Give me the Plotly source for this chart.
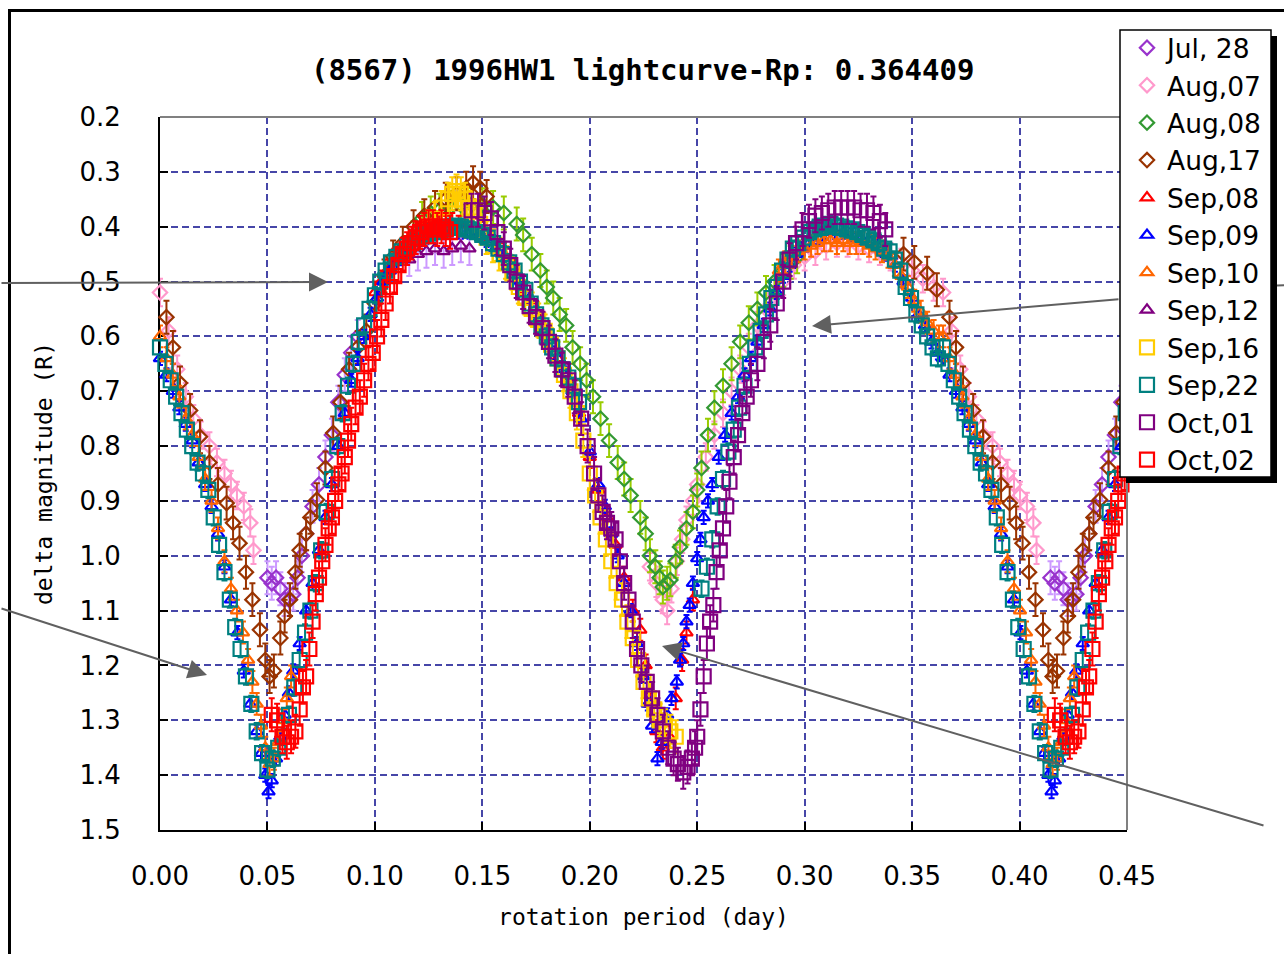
import plotly.graph_objects as go

# Rotation period used to fold the photometry (days)
PERIOD = 0.364409
X_MAX = 0.45

X_TICKS = [0.00, 0.05, 0.10, 0.15, 0.20, 0.25, 0.30, 0.35, 0.40, 0.45]
X_TICK_LABELS = ["0.00", "0.05", "0.10", "0.15", "0.20", "0.25", "0.30", "0.35", "0.40", "0.45"]
Y_TICKS = [0.2, 0.3, 0.4, 0.5, 0.6, 0.7, 0.8, 0.9, 1.0, 1.1, 1.2, 1.3, 1.4, 1.5]
Y_TICK_LABELS = ["0.2", "0.3", "0.4", "0.5", "0.6", "0.7", "0.8", "0.9", "1.0", "1.1", "1.2", "1.3", "1.4", "1.5"]

NIGHTS = ["Jul, 28", "Aug,07", "Aug,08", "Aug,17", "Sep,08", "Sep,09",
          "Sep,10", "Sep,12", "Sep,16", "Sep,22", "Oct,01", "Oct,02"]

# Phase (day) and delta magnitude (R) for each night
jul28_phase = [0.050, 0.052, 0.054, 0.056, 0.058, 0.060, 0.062, 0.064, 0.066, 0.068,
               0.071, 0.074, 0.077, 0.080, 0.083, 0.086, 0.089, 0.092]
jul28_mag = [1.04, 1.05, 1.04, 1.06, 1.08, 1.08, 1.07, 1.04, 1.00, 0.96,
             0.91, 0.87, 0.82, 0.78, 0.72, 0.67, 0.63, 0.60]

aug07_phase = [0.000, 0.004, 0.008, 0.012, 0.0155, 0.019, 0.023, 0.0265, 0.030, 0.033,
               0.0358, 0.039, 0.042, 0.0435,
               0.228, 0.231, 0.234, 0.236, 0.238, 0.2405, 0.243, 0.245, 0.248, 0.250,
               0.254, 0.258, 0.262, 0.266, 0.270, 0.274, 0.278, 0.282, 0.286, 0.290,
               0.295, 0.300, 0.305, 0.310, 0.315, 0.320, 0.325, 0.330, 0.335, 0.340,
               0.345, 0.350, 0.355, 0.360]
aug07_mag = [0.52, 0.59, 0.66, 0.71, 0.75, 0.78, 0.80, 0.83, 0.85, 0.87,
             0.89, 0.91, 0.94, 0.99,
             1.02, 1.05, 1.08, 1.10, 1.06, 1.01, 0.97, 0.935, 0.90, 0.87,
             0.82, 0.78, 0.74, 0.70, 0.66, 0.62, 0.58, 0.55, 0.52, 0.50,
             0.47, 0.455, 0.445, 0.435, 0.43, 0.43, 0.435, 0.44, 0.445, 0.455,
             0.465, 0.48, 0.495, 0.51]

aug08_phase = [0.118, 0.122, 0.126, 0.130, 0.135, 0.140, 0.145, 0.150, 0.155, 0.160,
               0.166, 0.169, 0.173, 0.177, 0.180, 0.183, 0.186, 0.189, 0.192, 0.1955,
               0.1985, 0.2015, 0.205, 0.209, 0.213, 0.216, 0.219, 0.2235, 0.226, 0.228,
               0.2305, 0.2325, 0.234, 0.236, 0.2375, 0.240, 0.242, 0.245, 0.248, 0.250,
               0.252, 0.255, 0.258, 0.262, 0.266, 0.270, 0.274, 0.278, 0.282, 0.286,
               0.290, 0.2935, 0.2965]
aug08_mag = [0.42, 0.385, 0.375, 0.37, 0.365, 0.36, 0.36, 0.36, 0.365, 0.375,
             0.395, 0.415, 0.45, 0.48, 0.51, 0.53, 0.56, 0.58, 0.62, 0.65,
             0.68, 0.71, 0.75, 0.79, 0.83, 0.86, 0.89, 0.93, 0.96, 1.00,
             1.02, 1.04, 1.057, 1.05, 1.044, 1.01, 0.984, 0.95, 0.92, 0.88,
             0.84, 0.78, 0.73, 0.69, 0.65, 0.61, 0.575, 0.55, 0.52, 0.50,
             0.48, 0.465, 0.455]

aug17_phase = [0.346, 0.351, 0.357, 0.3615,
               0.003, 0.006, 0.0093, 0.014, 0.0186, 0.023, 0.027, 0.031, 0.034, 0.037,
               0.040, 0.043, 0.0465, 0.049, 0.051, 0.053, 0.056, 0.058, 0.0605, 0.063,
               0.065, 0.068, 0.070, 0.073, 0.077, 0.0806, 0.084, 0.088, 0.092, 0.096,
               0.100, 0.1045, 0.1085, 0.113, 0.118, 0.123, 0.128, 0.133, 0.138, 0.1425,
               0.1457, 0.149, 0.152]
aug17_mag = [0.45, 0.465, 0.485, 0.515,
             0.565, 0.62, 0.685, 0.735, 0.783, 0.83, 0.87, 0.904, 0.94, 0.977,
             1.03, 1.08, 1.135, 1.19, 1.22, 1.21, 1.15, 1.11, 1.08, 1.03,
             0.99, 0.96, 0.93, 0.898, 0.84, 0.776, 0.72, 0.66, 0.62, 0.59,
             0.54, 0.49, 0.455, 0.43, 0.40, 0.38, 0.365, 0.35, 0.34, 0.33,
             0.32, 0.33, 0.345]

sep08_phase = [0.100, 0.103, 0.106, 0.109, 0.112, 0.115, 0.118, 0.121, 0.124, 0.127,
               0.130, 0.133, 0.136, 0.139, 0.142, 0.145, 0.148, 0.151, 0.155, 0.160,
               0.165, 0.170, 0.175, 0.180, 0.185, 0.190, 0.195, 0.200, 0.204, 0.208,
               0.212, 0.216, 0.220, 0.2235, 0.226, 0.228, 0.231, 0.234, 0.237, 0.240,
               0.243, 0.245, 0.248]
sep08_mag = [0.52, 0.50, 0.48, 0.46, 0.45, 0.44, 0.43, 0.42, 0.41, 0.405,
             0.40, 0.40, 0.395, 0.40, 0.40, 0.40, 0.405, 0.41, 0.425, 0.45,
             0.48, 0.52, 0.56, 0.60, 0.64, 0.68, 0.74, 0.82, 0.88, 0.93,
             0.98, 1.04, 1.10, 1.135, 1.20, 1.27, 1.32, 1.35, 1.33, 1.26,
             1.19, 1.14, 1.08]

sep09_phase = [0.000, 0.003, 0.006, 0.009, 0.012, 0.015, 0.018, 0.021, 0.024, 0.027,
               0.030, 0.033, 0.036, 0.039, 0.042, 0.045, 0.047, 0.049, 0.0505, 0.052,
               0.054, 0.056, 0.058, 0.060, 0.062, 0.065, 0.068, 0.071, 0.074, 0.077,
               0.080, 0.083, 0.086, 0.089, 0.092, 0.095, 0.098, 0.101, 0.104, 0.107,
               0.110, 0.113, 0.116, 0.120, 0.124, 0.128, 0.132, 0.136, 0.140, 0.144,
               0.148, 0.152, 0.156, 0.160, 0.164, 0.168, 0.172, 0.176, 0.180, 0.184,
               0.188, 0.192, 0.196, 0.200, 0.204, 0.207, 0.210, 0.213, 0.216, 0.219,
               0.222, 0.225, 0.227, 0.229, 0.2315, 0.2335, 0.236, 0.238, 0.2405, 0.242,
               0.2435, 0.245, 0.2465, 0.248, 0.250, 0.2515, 0.253, 0.255, 0.257, 0.260,
               0.263, 0.266, 0.269, 0.272, 0.275, 0.278, 0.281, 0.284, 0.287, 0.290,
               0.293, 0.296, 0.299, 0.302, 0.306, 0.310, 0.314, 0.318, 0.322, 0.326,
               0.330, 0.334, 0.338, 0.342, 0.346, 0.350, 0.353, 0.356, 0.359, 0.362]
sep09_mag = [0.64, 0.67, 0.70, 0.73, 0.76, 0.79, 0.83, 0.87, 0.91, 0.96,
             1.02, 1.08, 1.14, 1.21, 1.27, 1.32, 1.36, 1.40, 1.43, 1.41,
             1.37, 1.33, 1.29, 1.25, 1.21, 1.16, 1.10, 1.05, 0.99, 0.93,
             0.87, 0.80, 0.74, 0.68, 0.64, 0.60, 0.56, 0.53, 0.50, 0.48,
             0.465, 0.45, 0.44, 0.43, 0.42, 0.415, 0.41, 0.41, 0.41, 0.41,
             0.415, 0.425, 0.44, 0.455, 0.48, 0.50, 0.53, 0.57, 0.60, 0.63,
             0.66, 0.70, 0.75, 0.81, 0.87, 0.91, 0.96, 1.00, 1.05, 1.10,
             1.16, 1.22, 1.27, 1.31, 1.37, 1.34, 1.29, 1.26, 1.23, 1.19,
             1.16, 1.12, 1.09, 1.05, 1.005, 0.97, 0.93, 0.90, 0.87, 0.82,
             0.78, 0.74, 0.71, 0.67, 0.64, 0.61, 0.58, 0.55, 0.52, 0.49,
             0.47, 0.45, 0.44, 0.43, 0.42, 0.41, 0.41, 0.41, 0.415, 0.42,
             0.425, 0.435, 0.45, 0.47, 0.50, 0.53, 0.56, 0.58, 0.61, 0.63]

sep10_phase = [0.288, 0.291, 0.294, 0.297, 0.300, 0.303, 0.306, 0.309, 0.312, 0.315,
               0.318, 0.321, 0.324, 0.327, 0.330, 0.333, 0.336, 0.339, 0.342, 0.345,
               0.348, 0.351, 0.354, 0.357, 0.360, 0.3625,
               0.000, 0.003, 0.006, 0.009, 0.012, 0.015, 0.018, 0.021, 0.024, 0.027,
               0.030, 0.033, 0.0358, 0.0386, 0.041, 0.043, 0.045, 0.047, 0.049, 0.051,
               0.053, 0.055, 0.057, 0.059, 0.061]
sep10_mag = [0.48, 0.465, 0.455, 0.445, 0.44, 0.435, 0.43, 0.425, 0.425, 0.43,
             0.425, 0.43, 0.43, 0.43, 0.435, 0.44, 0.445, 0.455, 0.47, 0.49,
             0.51, 0.535, 0.555, 0.575, 0.59, 0.60,
             0.60, 0.64, 0.67, 0.71, 0.75, 0.78, 0.82, 0.86, 0.90, 0.95,
             1.01, 1.06, 1.10, 1.14, 1.19, 1.23, 1.27, 1.31, 1.35, 1.38,
             1.37, 1.34, 1.30, 1.26, 1.22]

sep12_phase = [0.116, 0.120, 0.124, 0.128, 0.132, 0.136, 0.140, 0.144]
sep12_mag = [0.46, 0.45, 0.445, 0.44, 0.445, 0.44, 0.435, 0.44]

sep16_phase = [0.125, 0.128, 0.131, 0.134, 0.136, 0.138, 0.140, 0.142, 0.144, 0.146,
               0.149, 0.152, 0.155, 0.158, 0.161, 0.164, 0.167, 0.170, 0.173, 0.176,
               0.179, 0.182, 0.185, 0.188, 0.191, 0.194, 0.197, 0.200, 0.2025, 0.205,
               0.2075, 0.210, 0.2125, 0.215, 0.2175, 0.220, 0.2225, 0.225, 0.2275, 0.230,
               0.2325, 0.235, 0.2375, 0.240]
sep16_mag = [0.40, 0.385, 0.365, 0.35, 0.34, 0.335, 0.34, 0.35, 0.365, 0.38,
             0.395, 0.42, 0.435, 0.45, 0.465, 0.485, 0.51, 0.53, 0.55, 0.57,
             0.59, 0.615, 0.64, 0.67, 0.70, 0.74, 0.79, 0.85, 0.89, 0.93,
             0.97, 1.01, 1.05, 1.08, 1.12, 1.15, 1.19, 1.23, 1.26, 1.28,
             1.30, 1.31, 1.32, 1.33]

sep22_phase = [0.252, 0.2545, 0.257, 0.2595, 0.262, 0.2645, 0.267, 0.2695, 0.272, 0.2745,
               0.277, 0.2795, 0.282, 0.2845, 0.287, 0.2895, 0.292, 0.2945, 0.297, 0.2995,
               0.302, 0.3045, 0.307, 0.3095, 0.312, 0.3145, 0.317, 0.3195, 0.322, 0.3245,
               0.327, 0.3295, 0.332, 0.3345, 0.337, 0.3395, 0.342, 0.3445, 0.347, 0.3495,
               0.352, 0.3545, 0.357, 0.3595, 0.362,
               0.000, 0.0025, 0.005, 0.0075, 0.010, 0.0125, 0.015, 0.0175, 0.020, 0.0225,
               0.025, 0.0275, 0.030, 0.0325, 0.035, 0.0375, 0.040, 0.0425, 0.045, 0.0475,
               0.050, 0.0525, 0.055, 0.0575, 0.060, 0.0625, 0.065, 0.0675, 0.070, 0.0725,
               0.075, 0.0775, 0.080, 0.0825, 0.085, 0.0875, 0.090, 0.0925, 0.095, 0.0975,
               0.100, 0.1025, 0.105, 0.1075, 0.110, 0.1125, 0.115, 0.1175, 0.120, 0.1225,
               0.125, 0.1275, 0.130, 0.1325, 0.135, 0.1375, 0.140, 0.1425, 0.145, 0.1475,
               0.150, 0.1525, 0.155, 0.1575, 0.160, 0.1625, 0.165, 0.1675, 0.170, 0.1725,
               0.175, 0.1775, 0.180, 0.1825, 0.185, 0.1875, 0.190, 0.1925, 0.195]
sep22_mag = [1.06, 1.02, 0.97, 0.91, 0.86, 0.81, 0.77, 0.73, 0.69, 0.65,
             0.62, 0.59, 0.56, 0.53, 0.51, 0.48, 0.46, 0.44, 0.43, 0.42,
             0.41, 0.405, 0.40, 0.40, 0.395, 0.40, 0.40, 0.405, 0.405, 0.41,
             0.415, 0.42, 0.425, 0.43, 0.44, 0.445, 0.46, 0.48, 0.51, 0.53,
             0.56, 0.58, 0.60, 0.62, 0.64,
             0.62, 0.65, 0.68, 0.71, 0.74, 0.77, 0.80, 0.83, 0.85, 0.88,
             0.93, 0.98, 1.03, 1.08, 1.13, 1.17, 1.22, 1.27, 1.32, 1.36,
             1.39, 1.37, 1.35, 1.33, 1.29, 1.24, 1.19, 1.14, 1.10, 1.05,
             0.99, 0.92, 0.86, 0.80, 0.74, 0.69, 0.65, 0.61, 0.58, 0.55,
             0.525, 0.50, 0.48, 0.465, 0.455, 0.445, 0.435, 0.43, 0.42, 0.415,
             0.41, 0.41, 0.405, 0.405, 0.40, 0.40, 0.40, 0.405, 0.405, 0.41,
             0.415, 0.42, 0.43, 0.44, 0.45, 0.465, 0.48, 0.50, 0.515, 0.54,
             0.56, 0.58, 0.60, 0.62, 0.64, 0.66, 0.675, 0.69, 0.72]

oct01_phase = [0.145, 0.148, 0.151, 0.154, 0.157, 0.160, 0.163, 0.166, 0.169, 0.172,
               0.175, 0.178, 0.181, 0.184, 0.187, 0.190, 0.193, 0.196, 0.199, 0.202,
               0.204, 0.206, 0.208, 0.210, 0.212, 0.214, 0.216, 0.218, 0.220, 0.222,
               0.224, 0.2265, 0.229, 0.2315, 0.234, 0.2365, 0.239, 0.241, 0.2435, 0.2455,
               0.2475, 0.249, 0.250, 0.2515, 0.253, 0.2545, 0.256, 0.2575, 0.259, 0.2605,
               0.262, 0.2635, 0.265, 0.267, 0.269, 0.271, 0.273, 0.275, 0.278, 0.281,
               0.284, 0.287, 0.290, 0.293, 0.296, 0.299, 0.302, 0.305, 0.308, 0.311,
               0.314, 0.317, 0.320, 0.323, 0.326, 0.329, 0.332, 0.335, 0.3375]
oct01_mag = [0.37, 0.37, 0.375, 0.385, 0.41, 0.44, 0.47, 0.50, 0.52, 0.545,
             0.565, 0.585, 0.61, 0.635, 0.66, 0.68, 0.71, 0.75, 0.80, 0.85,
             0.89, 0.92, 0.94, 0.95, 0.97, 1.01, 1.05, 1.08, 1.12, 1.17,
             1.20, 1.23, 1.26, 1.29, 1.32, 1.35, 1.37, 1.38, 1.395, 1.385,
             1.37, 1.35, 1.33, 1.28, 1.22, 1.16, 1.12, 1.09, 1.03, 0.99,
             0.95, 0.91, 0.865, 0.82, 0.78, 0.74, 0.71, 0.68, 0.65, 0.61,
             0.58, 0.54, 0.50, 0.46, 0.43, 0.405, 0.39, 0.38, 0.375, 0.37,
             0.365, 0.365, 0.365, 0.365, 0.37, 0.37, 0.375, 0.39, 0.405]

oct02_phase = [0.052, 0.0545, 0.057, 0.059, 0.061, 0.063, 0.065, 0.0665, 0.068, 0.0695,
               0.071, 0.0725, 0.074, 0.0755, 0.077, 0.0785, 0.080, 0.0815, 0.083, 0.0845,
               0.086, 0.0875, 0.089, 0.091, 0.093, 0.095, 0.097, 0.099, 0.101, 0.103,
               0.105, 0.107, 0.109, 0.111, 0.113, 0.115, 0.117, 0.119, 0.121, 0.123,
               0.125, 0.127, 0.129, 0.131, 0.133, 0.135]
oct02_mag = [1.29, 1.30, 1.33, 1.34, 1.33, 1.32, 1.28, 1.24, 1.22, 1.17,
             1.12, 1.07, 1.04, 1.01, 0.98, 0.95, 0.93, 0.90, 0.87, 0.85,
             0.82, 0.79, 0.76, 0.73, 0.71, 0.68, 0.65, 0.63, 0.60, 0.57,
             0.54, 0.51, 0.49, 0.47, 0.45, 0.44, 0.43, 0.42, 0.41, 0.405,
             0.40, 0.40, 0.405, 0.40, 0.405, 0.41]

# Typical photometric uncertainty per night (mag)
night_errors = [0.03, 0.025, 0.03, 0.03, 0.02, 0.012, 0.02, 0.03, 0.03, 0.015, 0.03, 0.03]

night_phases = [jul28_phase, aug07_phase, aug08_phase, aug17_phase, sep08_phase, sep09_phase,
                sep10_phase, sep12_phase, sep16_phase, sep22_phase, oct01_phase, oct02_phase]
night_mags = [jul28_mag, aug07_mag, aug08_mag, aug17_mag, sep08_mag, sep09_mag,
              sep10_mag, sep12_mag, sep16_mag, sep22_mag, oct01_mag, oct02_mag]

# symbol, marker colour, error-bar colour, marker size
STYLES = {
    "Jul, 28": ("diamond-open", "#9933CC", "#CC99FF", 11),
    "Aug,07": ("diamond-open", "#FF99CC", "#FF99CC", 11),
    "Aug,08": ("diamond-open", "#339933", "#99CC00", 11),
    "Aug,17": ("diamond-open", "#993300", "#993300", 11),
    "Sep,08": ("triangle-up-open", "#FF0000", "#FF0000", 11),
    "Sep,09": ("triangle-up-open", "#0000FF", "#0000FF", 11),
    "Sep,10": ("triangle-up-open", "#FF6600", "#FF6600", 11),
    "Sep,12": ("triangle-up-open", "#800080", "#CC99FF", 11),
    "Sep,16": ("square-open", "#FFCC00", "#FFCC00", 14),
    "Sep,22": ("square-open", "#008080", "#008080", 14),
    "Oct,01": ("square-open", "#800080", "#800080", 14),
    "Oct,02": ("square-open", "#FF0000", "#FF0000", 14),
}


def fold(phase, mag):
    """Repeat the start of the cycle after one period, up to the end of the x range."""
    xs = list(phase) + [p + PERIOD for p in phase if p + PERIOD <= X_MAX]
    ys = list(mag) + [m for p, m in zip(phase, mag) if p + PERIOD <= X_MAX]
    return xs, ys


# Plot-area geometry in pixels
W, H = 1284, 954
L, R, T, B = 160, 1127, 117, 830


def px(p):
    return (p - L) / (R - L)


def py(p):
    return (B - p) / (B - T)


FONT = "DejaVu Sans"
MONO = "DejaVu Sans Mono"
fig = go.Figure()

for name, ph, mg, err in zip(NIGHTS, night_phases, night_mags, night_errors):
    sym, col, ecol, size = STYLES[name]
    xs, ys = fold(ph, mg)
    fig.add_trace(go.Scatter(
        x=xs, y=ys, mode="markers", name=name, cliponaxis=False,
        marker=dict(symbol=sym, size=size, color=col, line=dict(color=col, width=2.2)),
        error_y=dict(type="constant", value=err, color=ecol, thickness=2, width=3),
    ))

GRID = "#4646A8"
fig.update_xaxes(
    range=[0, X_MAX], tickmode="array", tickvals=X_TICKS, ticktext=X_TICK_LABELS,
    showgrid=True, gridcolor=GRID, gridwidth=2, griddash="7px,4px", zeroline=False,
    showline=True, linecolor="black", linewidth=2, layer="below traces",
    ticks="inside", ticklen=8, tickwidth=2, tickcolor="black", ticklabelstandoff=22,
    tickfont=dict(family=FONT, size=26, color="black"),
    title=dict(text="rotation period (day)", font=dict(family=MONO, size=23, color="black"), standoff=19),
)
fig.update_yaxes(
    range=[1.5, 0.2], tickmode="array", tickvals=Y_TICKS, ticktext=Y_TICK_LABELS,
    showgrid=True, gridcolor=GRID, gridwidth=2, griddash="7px,4px", zeroline=False,
    showline=True, linecolor="black", linewidth=2, layer="below traces",
    ticks="inside", ticklen=8, tickwidth=2, tickcolor="black", ticklabelstandoff=32,
    tickfont=dict(family=FONT, size=26, color="black"),
    title=dict(text="delta magnitude (R)", font=dict(family=MONO, size=23, color="black"), standoff=20),
)

shapes = [
    # outer chart frame
    dict(type="rect", xref="paper", yref="paper", x0=px(9.5), x1=px(1400), y0=py(1100), y1=py(10.5),
         line=dict(color="black", width=3), layer="below"),
    # grey top and right borders of the plot area
    dict(type="line", xref="paper", yref="paper", x0=0, x1=1, y0=1, y1=1,
         line=dict(color="#808080", width=2), layer="above"),
    dict(type="line", xref="paper", yref="paper", x0=1, x1=1, y0=0, y1=1,
         line=dict(color="#808080", width=2), layer="above"),
    # legend box with drop shadow
    dict(type="rect", xref="paper", yref="paper", x0=px(1126), x1=px(1277), y0=py(483), y1=py(36),
         fillcolor="black", line=dict(width=0), layer="above"),
    dict(type="rect", xref="paper", yref="paper", x0=px(1120), x1=px(1271), y0=py(477), y1=py(30),
         fillcolor="white", line=dict(color="black", width=1.5), layer="above"),
    # tail of the upper-right pointer beyond the legend
    dict(type="line", xref="paper", yref="paper", x0=px(1277), x1=px(1290), y0=py(285.6), y1=py(285),
         line=dict(color="#606060", width=2), layer="above"),
]

# Pointer arrows: (head x, head y, tail x, tail y) in pixels
POINTERS = [(328, 282, 0, 283), (812, 326, 1120, 299), (207, 675, 0, 608), (662, 646, 1265, 826)]
annotations = []
for hx, hy, tx, ty in POINTERS:
    annotations.append(dict(
        xref="paper", yref="paper", x=px(hx), y=py(hy), ax=tx - hx, ay=ty - hy,
        text="", showarrow=True, arrowhead=2, arrowsize=1.9, arrowwidth=2, arrowcolor="#606060",
    ))

fig.update_layout(
    width=W, height=H, margin=dict(l=L, r=W - R, t=T, b=H - B, pad=0),
    paper_bgcolor="white", plot_bgcolor="white",
    title=dict(text="(8567) 1996HW1 lightcurve-Rp: 0.364409", x=px(644), xanchor="center",
               y=1 - 70 / H, yref="container", yanchor="middle",
               font=dict(family=MONO, size=29, color="black", weight="bold")),
    legend=dict(x=px(1127), xanchor="left", y=py(24), yanchor="top", bgcolor="rgba(0,0,0,0)",
                borderwidth=0, font=dict(family=FONT, size=26.5, color="black"), tracegroupgap=0),
    shapes=shapes, annotations=annotations,
)

fig.write_html("out.html")
